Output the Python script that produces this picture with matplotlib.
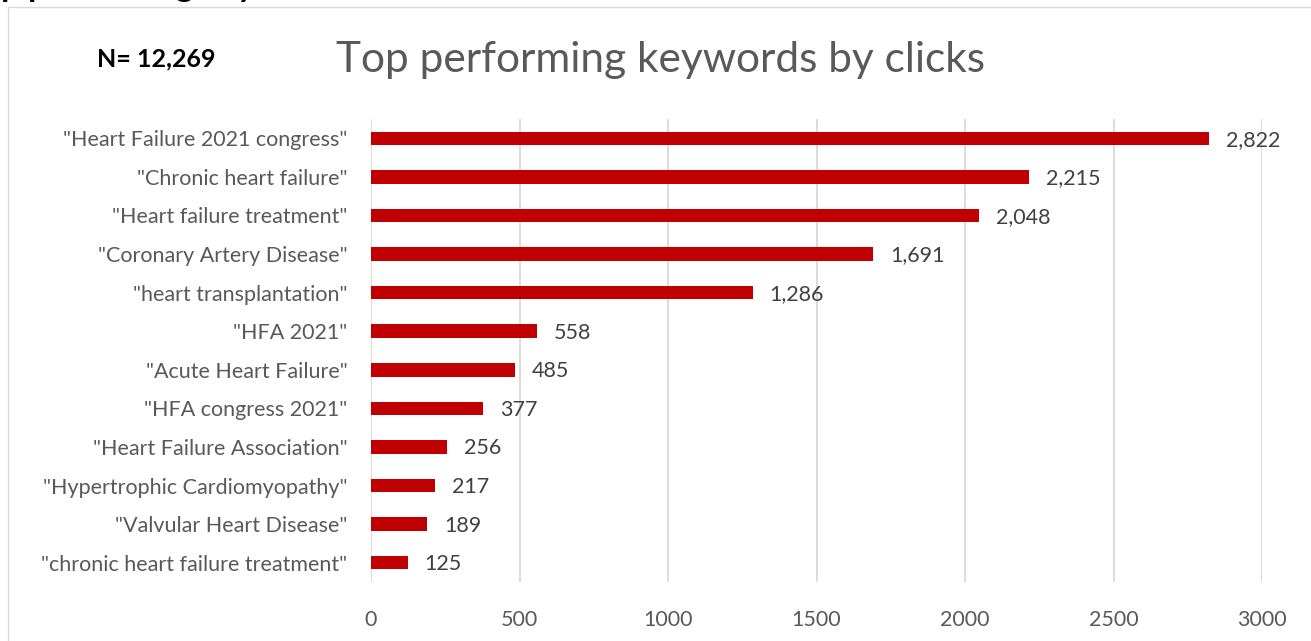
"""
Top performing keywords by clicks: horizontal bar chart, Excel-style.
"""

import matplotlib.pyplot as plt
from matplotlib.patches import Rectangle

plt.rcParams["font.family"] = ["Lato", "DejaVu Sans"]

KEYWORDS = [
    '"Heart Failure 2021 congress"',
    '"Chronic heart failure"',
    '"Heart failure treatment"',
    '"Coronary Artery Disease"',
    '"heart transplantation"',
    '"HFA 2021"',
    '"Acute Heart Failure"',
    '"HFA congress 2021"',
    '"Heart Failure Association"',
    '"Hypertrophic Cardiomyopathy"',
    '"Valvular Heart Disease"',
    '"chronic heart failure treatment"',
]
CLICKS = [2822, 2215, 2048, 1691, 1286, 558, 485, 377, 256, 217, 189, 125]
X_TICKS = [0, 500, 1000, 1500, 2000, 2500, 3000]
TOTAL_LABEL = "N= 12,269"
TITLE = "Top performing keywords by clicks"

C_BAR = "#C00000"
C_TEXT = "#595959"
C_GRID = "#D9D9D9"

W, H = 1311, 641
fig = plt.figure(figsize=(W / 100, H / 100), dpi=100)

# light frame of the chart object (cut by the screenshot on right/bottom)
fig.patches.append(Rectangle((8 / W, -0.1), 1.2, 1 - 7 / H + 0.1,
                             transform=fig.transFigure, fill=False,
                             edgecolor=C_GRID, linewidth=1.0))

ax = fig.add_axes([371 / W, 1 - 582 / H, (1262 - 371) / W, (582 - 119) / H])

ypos = list(range(len(KEYWORDS)))
ax.barh(ypos, CLICKS, height=0.35, color=C_BAR, zorder=3)
for y, v in zip(ypos, CLICKS):
    ax.annotate(f"{v:,}", xy=(v, y), xytext=(12, -1), textcoords="offset points",
                ha="left", va="center", fontsize=15.5, color="#404040")

ax.set_xlim(0, 3000)
ax.set_ylim(len(KEYWORDS) - 0.5, -0.5)
ax.set_xticks(X_TICKS)
ax.set_yticks(ypos)
ax.set_yticklabels(KEYWORDS)
ax.tick_params(axis="x", length=0, pad=20, labelsize=15.5, labelcolor=C_TEXT)
ax.tick_params(axis="y", length=0, pad=17, labelsize=15.5, labelcolor=C_TEXT)
ax.grid(axis="x", color=C_GRID, linewidth=1.3, zorder=0)
for s in ax.spines.values():
    s.set_visible(False)

fig.text(661 / W, 1 - 71.7 / H, TITLE, ha="center", va="baseline",
         fontsize=30.5, color=C_TEXT)
fig.text(156 / W, 1 - 66.5 / H, TOTAL_LABEL, ha="center", va="baseline",
         fontsize=18, fontweight="bold", color="black")
# slide heading above the chart, mostly cut off by the screenshot
fig.text(-38 / W, 1 + 2.5 / H, "Top performing keywords", ha="left", va="baseline",
         fontsize=24, fontweight="bold", color="black")

fig.savefig("out.png", dpi=100)
